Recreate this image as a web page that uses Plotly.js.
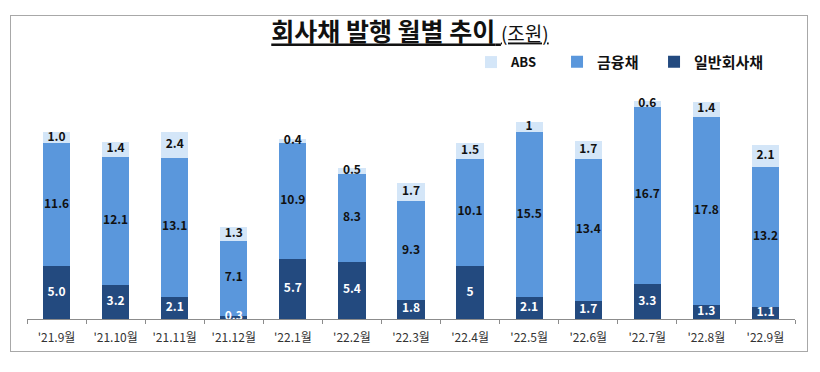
<!DOCTYPE html>
<html>
<head>
<meta charset="utf-8">
<script src="https://cdn.plot.ly/plotly-3.0.1.min.js"></script>
<style>
  html, body { margin: 0; padding: 0; background: #fff; }
  #wrap { position: relative; width: 820px; height: 372px; }
  #chart { width: 820px; height: 372px; }
  #frame { position: absolute; left: 10px; top: 15px; width: 798px; height: 337px;
           border: 1.5px solid #a8a8a8; pointer-events: none; box-sizing: border-box; }
</style>
</head>
<body>
<div id="wrap">
  <div id="chart"></div>
  <div id="frame"></div>
</div>
<script>
const months = ["'21.9월", "'21.10월", "'21.11월", "'21.12월", "'22.1월", "'22.2월", "'22.3월",
                "'22.4월", "'22.5월", "'22.6월", "'22.7월", "'22.8월", "'22.9월"];
const corpValues = [5.0, 3.2, 2.1, 0.3, 5.7, 5.4, 1.8, 5, 2.1, 1.7, 3.3, 1.3, 1.1];
const corpLabels = ["5.0", "3.2", "2.1", "0.3", "5.7", "5.4", "1.8", "5", "2.1", "1.7", "3.3", "1.3", "1.1"];
const finValues = [11.6, 12.1, 13.1, 7.1, 10.9, 8.3, 9.3, 10.1, 15.5, 13.4, 16.7, 17.8, 13.2];
const finLabels = ["11.6", "12.1", "13.1", "7.1", "10.9", "8.3", "9.3", "10.1", "15.5", "13.4", "16.7", "17.8", "13.2"];
const absValues = [1.0, 1.4, 2.4, 1.3, 0.4, 0.5, 1.7, 1.5, 1, 1.7, 0.6, 1.4, 2.1];
const absLabels = ["1.0", "1.4", "2.4", "1.3", "0.4", "0.5", "1.7", "1.5", "1", "1.7", "0.6", "1.4", "2.1"];

const FONT = "'Noto Sans CJK KR', 'Noto Sans', sans-serif";
const lblFont = (c) => ({ family: FONT, size: 12, color: c, weight: 700 });

// stacked series, bottom to top
const series = [
  { name: '일반회사채', values: corpValues, labels: corpLabels, color: '#234A7F', txt: '#ffffff', legend: 'legend3' },
  { name: '금융채', values: finValues, labels: finLabels, color: '#5A97DC', txt: '#111111', legend: 'legend2' },
  { name: 'ABS', values: absValues, labels: absLabels, color: '#D4E6F8', txt: '#111111', legend: 'legend' }
];

const traces = [];
const base = months.map(() => 0);
series.forEach(s => {
  traces.push({ type: 'bar', name: s.name, x: months, y: s.values,
    marker: { color: s.color }, textposition: 'none', hoverinfo: 'skip', legend: s.legend });
});
series.forEach(s => {
  const mids = s.values.map((v, i) => base[i] + v / 2);
  s.values.forEach((v, i) => { base[i] += v; });
  traces.push({ type: 'scatter', mode: 'text', x: months, y: mids, text: s.labels,
    textposition: 'middle center', textfont: lblFont(s.txt), showlegend: false,
    hoverinfo: 'skip', cliponaxis: true });
});

const legendCommon = {
  orientation: 'h', xref: 'container', yref: 'container', xanchor: 'left',
  y: 0.833, yanchor: 'middle', itemwidth: 30, bgcolor: 'rgba(0,0,0,0)',
  font: { family: FONT, size: 15, color: '#111111', weight: 700 }
};

const layout = {
  width: 820, height: 372,
  margin: { l: 27, r: 25, t: 90, b: 53, autoexpand: false },
  paper_bgcolor: '#ffffff', plot_bgcolor: '#ffffff',
  barmode: 'stack', bargap: 0.54,
  title: {
    text: '<b>회사채 발행 월별 추이</b> <span style="font-size:19px">(조원)</span>',
    x: 0.5, xref: 'container', xanchor: 'center', y: 0.912, yref: 'container', yanchor: 'middle',
    font: { family: FONT, size: 25, color: '#111111', lineposition: 'under' }
  },
  showlegend: true,
  legend: Object.assign({}, legendCommon, { x: 0.5744, font: Object.assign({}, legendCommon.font, { size: 13 }) }),
  legend2: Object.assign({}, legendCommon, { x: 0.6793 }),
  legend3: Object.assign({}, legendCommon, { x: 0.7976 }),
  xaxis: {
    type: 'category', range: [-0.5, months.length - 0.5],
    showline: true, linecolor: '#8c8c8c', linewidth: 1,
    ticks: 'outside', tickson: 'boundaries', ticklen: 4, tickcolor: '#8c8c8c',
    tickangle: 0, ticklabelstandoff: 8, automargin: false,
    tickfont: { family: FONT, size: 12, color: '#333333' },
    showgrid: false, fixedrange: true
  },
  yaxis: {
    range: [0, 21.6], visible: false, showgrid: false, zeroline: false, fixedrange: true, automargin: false
  }
};

Plotly.newPlot('chart', traces, layout, { displayModeBar: false, staticPlot: true });
</script>
</body>
</html>
